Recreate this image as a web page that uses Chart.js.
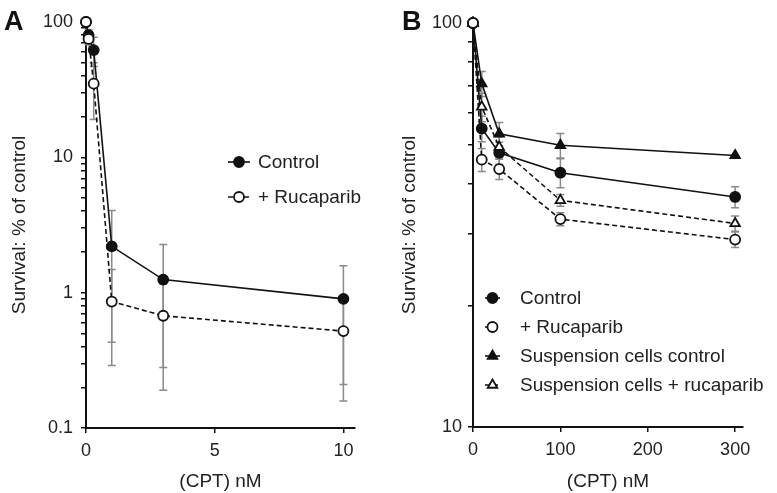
<!DOCTYPE html>
<html>
<head>
<meta charset="utf-8">
<script src="https://cdn.jsdelivr.net/npm/chart.js@4.4.0/dist/chart.umd.min.js"></script>
<style>
  body { margin: 0; background: #fff; }
  #wrap { position: relative; width: 777px; height: 493px; }
  #panelA { position: absolute; left: 0; top: 0; }
  #panelB { position: absolute; left: 390px; top: 0; }
</style>
</head>
<body>
<div id="wrap">
  <canvas id="panelA" width="390" height="493"></canvas>
  <canvas id="panelB" width="387" height="493"></canvas>
</div>
<script>
// ---------- global defaults ----------
Chart.defaults.font.family = "'Liberation Sans', Arial, sans-serif";
Chart.defaults.color = '#222';

// ---------- panel A data ----------
const cptA = [0, 0.1, 0.3, 1, 3, 10];
const controlA = [100, 80, 62, 2.2, 1.25, 0.9];
const controlA_lo = [100, 72, 47, 0.43, 0.28, 0.21];
const controlA_hi = [100, 88, 77, 4.05, 2.27, 1.58];
const rucA = [100, 75, 35, 0.86, 0.675, 0.52];
const rucA_lo = [100, 68, 19, 0.29, 0.19, 0.158];
const rucA_hi = [100, 82, 50, 1.48, 1.16, 0.88];
const xTicksA = [0, 5, 10];
const yLabelsA = [0.1, 1, 10, 100];

// ---------- panel B data ----------
const cptB = [0, 10, 30, 100, 300];
const controlB = [100, 54.8, 47.7, 42.6, 37.1];
const controlB_err = [0, 4, 3, 3.5, 2.2];
const rucB = [100, 45.9, 43.5, 32.7, 29.1];
const rucB_err = [0, 3, 2.5, 1.2, 1.3];
const suspCtrlB = [100, 70.8, 53.2, 49.8, 47.0];
const suspCtrlB_err = [0, 5, 3.5, 3.5, 0];
const suspRucB = [100, 62, 49.3, 36.4, 31.9];
const suspRucB_err = [0, 5, 3, 1.2, 1.4];
const xTicksB = [0, 100, 200, 300];
const yLabelsB = [10, 100];

// ---------- helpers ----------
function logTicks(min, max) {
    const t = [];
    for (let d = min; d < max * 0.999; d *= 10) {
        for (let m = 1; m < 10; m++) t.push(+(d * m).toPrecision(3));
    }
    t.push(max);
    return t;
}

// open markers (order 0) are drawn on top of the filled ones
function serie(label, xs, ys, lo, hi, style, filled, dashed) {
    return {
        label,
        data: xs.map((x, i) => ({ x, y: ys[i] })),
        errLo: lo, errHi: hi,
        order: filled ? 1 : 0,
        borderColor: '#111',
        borderWidth: 1.6,
        borderDash: dashed ? [5, 3] : [],
        pointStyle: style,
        pointRadius: style === 'triangle' ? 5.5 : 5,
        pointBackgroundColor: filled ? '#111' : '#fff',
        pointBorderColor: '#111',
        pointBorderWidth: 1.8,
        tension: 0,
        clip: false
    };
}

// error bars drawn under the lines
const errorBars = {
    id: 'errorBars',
    beforeDatasetsDraw(chart) {
        const ctx = chart.ctx;
        const xs = chart.scales.x, ys = chart.scales.y;
        ctx.save();
        ctx.strokeStyle = '#8a8a8a';
        ctx.lineWidth = 1.5;
        chart.data.datasets.forEach(ds => {
            ds.data.forEach((p, i) => {
                const lo = ds.errLo[i], hi = ds.errHi[i];
                if (lo === hi) return;
                const px = xs.getPixelForValue(p.x);
                const yl = ys.getPixelForValue(lo), yh = ys.getPixelForValue(hi);
                ctx.beginPath();
                ctx.moveTo(px, yl); ctx.lineTo(px, yh);
                ctx.moveTo(px - 4, yl); ctx.lineTo(px + 4, yl);
                ctx.moveTo(px - 4, yh); ctx.lineTo(px + 4, yh);
                ctx.stroke();
            });
        });
        ctx.restore();
    }
};

// legend and panel letter
const manualLegend = {
    id: 'manualLegend',
    afterDraw(chart, args, opts) {
        const ctx = chart.ctx;
        ctx.save();
        chart.data.datasets.forEach((ds, i) => {
            const y = opts.y0 + i * opts.dy;
            const x1 = opts.x, x2 = opts.x + opts.seg;
            ctx.strokeStyle = '#111';
            ctx.lineWidth = 1.6;
            ctx.setLineDash(ds.borderDash);
            ctx.beginPath();
            ctx.moveTo(x1, y); ctx.lineTo(x2, y);
            ctx.stroke();
            ctx.setLineDash([]);
            ctx.fillStyle = ds.pointBackgroundColor;
            ctx.strokeStyle = '#111';
            ctx.lineWidth = ds.pointBorderWidth;
            Chart.helpers.drawPoint(ctx, {
                pointStyle: ds.pointStyle, radius: ds.pointRadius,
                borderWidth: ds.pointBorderWidth, rotation: 0
            }, (x1 + x2) / 2, y);
            ctx.fillStyle = '#222';
            ctx.font = "19px 'Liberation Sans', Arial, sans-serif";
            ctx.textBaseline = 'middle';
            ctx.textAlign = 'left';
            ctx.fillText(ds.label, opts.textX, y + 1);
        });
        ctx.fillStyle = '#111';
        ctx.font = "bold 27px 'Liberation Sans', Arial, sans-serif";
        ctx.textBaseline = 'alphabetic';
        ctx.fillText(opts.letter, opts.letterX, 30);
        ctx.restore();
    }
};

function criarPainel(id, datasets, box, xMax, xTicks, yMin, yMax, yLabels, legend) {
    const axis = {
        border: { color: '#111', width: 2 },
        grid: { display: true, drawOnChartArea: false, drawTicks: true, tickLength: 5, color: '#111', lineWidth: 1.5 }
    };
    return new Chart(document.getElementById(id), {
        type: 'line',
        data: { datasets },
        options: {
            responsive: false,
            animation: false,
            layout: { padding: { top: box.top, right: box.right, left: 0, bottom: 0 } },
            plugins: {
                legend: { display: false },
                tooltip: { enabled: false },
                manualLegend: legend
            },
            scales: {
                x: {
                    ...axis,
                    type: 'linear',
                    min: 0, max: xMax,
                    afterBuildTicks: s => { s.ticks = xTicks.map(v => ({ value: v })); },
                    afterFit: s => { s.height = box.xh; },
                    ticks: { font: { size: 18 }, padding: 7, autoSkip: false },
                    title: { display: true, text: '(CPT) nM', font: { size: 19 }, padding: { top: 0, bottom: 0 } }
                },
                y: {
                    ...axis,
                    type: 'logarithmic',
                    min: yMin, max: yMax,
                    afterBuildTicks: s => { s.ticks = logTicks(yMin, yMax).map(v => ({ value: v })); },
                    afterFit: s => { s.width = box.left; },
                    ticks: {
                        font: { size: 18 }, padding: box.ypad, autoSkip: false,
                        callback: v => yLabels.includes(+v.toPrecision(3)) ? String(v) : ''
                    },
                    title: { display: true, text: 'Survival: % of control', font: { size: 19 }, padding: { top: 8 } }
                }
            }
        },
        plugins: [errorBars, manualLegend]
    });
}

// ---------- panel A ----------
criarPainel('panelA', [
    serie('Control', cptA, controlA, controlA_lo, controlA_hi, 'circle', true, false),
    serie('+ Rucaparib', cptA, rucA, rucA_lo, rucA_hi, 'circle', false, true)
], { left: 86, right: 35, top: 22, xh: 65, ypad: 8 }, 10.45, xTicksA, 0.1, 100, yLabelsA,
   { x: 228, seg: 22, textX: 258, y0: 162, dy: 35, letter: 'A', letterX: 4 });

// ---------- panel B ----------
const lo = (v, e) => v.map((y, i) => y - e[i]);
const hi = (v, e) => v.map((y, i) => y + e[i]);
criarPainel('panelB', [
    serie('Control', cptB, controlB, lo(controlB, controlB_err), hi(controlB, controlB_err), 'circle', true, false),
    serie('+ Rucaparib', cptB, rucB, lo(rucB, rucB_err), hi(rucB, rucB_err), 'circle', false, true),
    serie('Suspension cells control', cptB, suspCtrlB, lo(suspCtrlB, suspCtrlB_err), hi(suspCtrlB, suspCtrlB_err), 'triangle', true, false),
    serie('Suspension cells + rucaparib', cptB, suspRucB, lo(suspRucB, suspRucB_err), hi(suspRucB, suspRucB_err), 'triangle', false, true)
], { left: 83, right: 34, top: 23, xh: 66, ypad: 6 }, 309, xTicksB, 10, 100, yLabelsB,
   { x: 95, seg: 15, textX: 130, y0: 298, dy: 29, letter: 'B', letterX: 12 });
</script>
</body>
</html>
